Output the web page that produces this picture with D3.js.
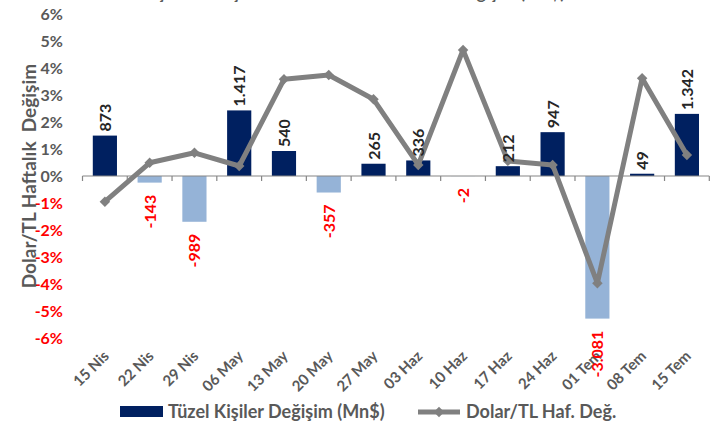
<!DOCTYPE html>
<html>
<head>
<meta charset="utf-8">
<script src="https://cdn.jsdelivr.net/npm/d3@7"></script>
<style>
  body { margin: 0; background: #fff; }
  svg { display: block; font-family: Lato, "Open Sans", sans-serif; font-weight: bold; }
</style>
</head>
<body>
<div id="grafico"></div>
<script>
// dati
const weeks = ["15 Nis", "22 Nis", "29 Nis", "06 May", "13 May", "20 May", "27 May",
               "03 Haz", "10 Haz", "17 Haz", "24 Haz", "01 Tem", "08 Tem", "15 Tem"];
const tuzelChange = [873, -143, -989, 1417, 540, -357, 265, 336, -2, 212, 947, -3081, 49, 1342];
const usdTryChange = [-0.95, 0.49, 0.86, 0.37, 3.58, 3.74, 2.84, 0.41, 4.67, 0.56, 0.41, -3.97, 3.62, 0.78];
const pctTicks = [-6, -5, -4, -3, -2, -1, 0, 1, 2, 3, 4, 5, 6];

const width = 720, height = 423;
const gray = "#595959", red = "#ff0000";

const svg = d3.select("#grafico").append("svg")
    .attr("width", width)
    .attr("height", height);

// scale
const x = d3.scaleBand().domain(weeks).range([82.5, 709.3]).padding(0);
const y = d3.scaleLinear().domain([-6, 6]).range([338, 14]);
const y2 = d3.scaleLinear().domain([-3500, 3500]).range([338, 14]);
const barW = x.bandwidth() * 0.54;

// titolo (tagliato in alto come nell'originale)
svg.append("text")
    .attr("x", 565).attr("y", -1.5)
    .attr("text-anchor", "end")
    .style("font-size", "17px")
    .style("fill", gray)
    .text("Yurt İçi Tüzel Kişiler Döviz Mevduatı Haftalık Değişim (Mn$)");

// asse Y sinistro (solo etichette)
svg.append("g")
    .selectAll("text")
    .data(pctTicks)
    .join("text")
    .attr("x", 63)
    .attr("y", d => y(d))
    .attr("dy", "0.36em")
    .attr("text-anchor", "end")
    .style("font-size", "16px")
    .style("fill", d => d < 0 ? red : gray)
    .text(d => d + "%");

// titolo asse Y
svg.append("text")
    .attr("transform", "translate(36,176) rotate(-90)")
    .attr("text-anchor", "middle")
    .style("font-size", "19px")
    .style("fill", gray)
    .style("white-space", "pre")
    .text("Dolar/TL Haftalık  Değişim");

// barre
svg.append("g")
    .selectAll("rect")
    .data(tuzelChange)
    .join("rect")
    .attr("x", (d, i) => x(weeks[i]) + (x.bandwidth() - barW) / 2)
    .attr("y", d => y2(Math.max(d, 0)))
    .attr("width", barW)
    .attr("height", d => Math.abs(y2(d) - y2(0)))
    .attr("fill", d => d < 0 ? "#95b3d7" : "#002060");

// asse X: linea e tacche
const axisG = svg.append("g");
axisG.append("line")
    .attr("x1", x.range()[0]).attr("x2", x.range()[1])
    .attr("y1", y(0)).attr("y2", y(0))
    .attr("stroke", "#868686").attr("stroke-width", 1.2);
const tickPos = weeks.map(w => x(w)).concat([x.range()[1]]);
axisG.selectAll(".tick")
    .data(tickPos)
    .join("line")
    .attr("class", "tick")
    .attr("x1", d => d).attr("x2", d => d)
    .attr("y1", y(0)).attr("y2", y(0) + 5)
    .attr("stroke", "#868686").attr("stroke-width", 1.2);

// etichette categorie
svg.append("g")
    .selectAll("text")
    .data(weeks)
    .join("text")
    .attr("transform", d => `translate(${x(d) + x.bandwidth() / 2 + 5},357) rotate(-45)`)
    .attr("text-anchor", "end")
    .style("font-size", "15px")
    .style("fill", gray)
    .text(d => d);

// linea Dolar/TL
const cx = (d, i) => x(weeks[i]) + x.bandwidth() / 2;
const line = d3.line().x(cx).y(d => y(d));
svg.append("path")
    .datum(usdTryChange)
    .attr("d", line)
    .attr("fill", "none")
    .attr("stroke", "#808080")
    .attr("stroke-width", 5)
    .attr("stroke-linejoin", "round");

svg.append("g")
    .selectAll("path")
    .data(usdTryChange)
    .join("path")
    .attr("transform", (d, i) => `translate(${cx(d, i)},${y(d)})`)
    .attr("d", d3.symbol(d3.symbolDiamond2, 70))
    .attr("fill", "#808080");

// etichette valori barre (separatore migliaia ".")
const fmt = v => d3.format(",")(v).replace(/,/g, ".").replace("\u2212", "-");
svg.append("g")
    .selectAll("text")
    .data(tuzelChange)
    .join("text")
    .attr("transform", (d, i) => {
        const py = d < 0 ? y2(d) + 12 : y2(d) - 4;
        return `translate(${cx(d, i) + 6},${py}) rotate(-90)`;
    })
    .attr("text-anchor", d => d < 0 ? "end" : "start")
    .style("font-size", "16px")
    .style("fill", d => d < 0 ? red : "#262626")
    .text(d => fmt(d));

// legenda
const leg = svg.append("g");
leg.append("rect")
    .attr("x", 120).attr("y", 406)
    .attr("width", 43).attr("height", 11)
    .attr("fill", "#002060");
leg.append("text")
    .attr("x", 168).attr("y", 412).attr("dy", "0.36em")
    .style("font-size", "18px").style("fill", gray)
    .text("Tüzel Kişiler Değişim (Mn$)");
leg.append("line")
    .attr("x1", 418).attr("x2", 460)
    .attr("y1", 412).attr("y2", 412)
    .attr("stroke", "#808080").attr("stroke-width", 5);
leg.append("path")
    .attr("transform", "translate(439,412)")
    .attr("d", d3.symbol(d3.symbolDiamond2, 70))
    .attr("fill", "#808080");
leg.append("text")
    .attr("x", 466).attr("y", 412).attr("dy", "0.36em")
    .style("font-size", "18px").style("fill", gray)
    .text("Dolar/TL Haf. Değ.");
</script>
</body>
</html>
